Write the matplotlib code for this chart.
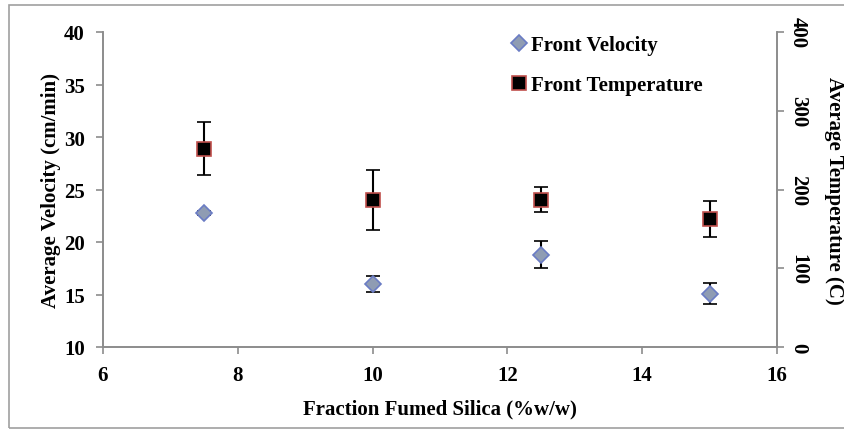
import numpy as np
import matplotlib.pyplot as plt
from matplotlib.patches import Rectangle

plt.rcParams['font.family'] = ['Liberation Serif', 'DejaVu Serif']
plt.rcParams['font.weight'] = 'bold'

# fumed silica loading (%w/w)
silica = [7.5, 10, 12.5, 15]
# front velocity (cm/min) and std dev
velocity = [22.8, 16.0, 18.8, 15.05]
velocity_err = [0.2, 0.8, 1.25, 1.0]
# front temperature (C) and std dev
temperature = [252, 187, 187, 163]
temperature_err = [34, 38, 16, 23]

grey = '#8c8c8c'
fs = 15

fig = plt.figure(figsize=(8.44, 4.31), dpi=100)
fig.patches.append(Rectangle((9/844, 2/431), 1.0, 423/431, transform=fig.transFigure,
                             fill=False, edgecolor='#a0a0a0', lw=1.2))

ax = fig.add_axes([103/844, 83/431, 674/844, 315/431])
ax2 = ax.twinx()

ax.errorbar(silica, velocity, yerr=velocity_err, fmt='D', ms=10,
            mfc='#8f9cb3', mec='#6a7cc4', mew=1.2, ecolor='black',
            elinewidth=1.5, capsize=5, capthick=1.5, zorder=3,
            label='Front Velocity')
ax2.errorbar(silica, temperature, yerr=temperature_err, fmt='s', ms=12,
             mfc='black', mec='#c0504d', mew=1.2, ecolor='black',
             elinewidth=1.5, capsize=5, capthick=1.5, zorder=3,
             label='Front Temperature')

ax.set_xlim(6, 16)
ax.set_ylim(10, 40)
ax2.set_ylim(0, 400)
ax.set_xticks(np.arange(6, 17, 2))
ax.set_yticks(np.arange(10, 41, 5))
ax2.set_yticks(np.arange(0, 401, 100))

for a in (ax, ax2):
    a.spines['top'].set_visible(False)
    for s in ('left', 'right', 'bottom'):
        a.spines[s].set_color(grey)
        a.spines[s].set_linewidth(1.2)
    a.tick_params(colors=grey, length=5, width=1.2, labelsize=fs,
                  labelcolor='black')
ax.tick_params(axis='y', pad=8)
ax.tick_params(axis='x', pad=8)

for lbl in ax2.get_yticklabels():
    lbl.set_rotation(-90)
    lbl.set_va('center')
ax2.tick_params(axis='y', pad=3)

ax.set_xlabel('Fraction Fumed Silica (%w/w)', fontsize=fs, fontweight='bold', labelpad=10)
ax.set_ylabel('Average Velocity (cm/min)', fontsize=fs, fontweight='bold', labelpad=2)
ax2.set_ylabel('Average Temperature (C)', fontsize=fs, fontweight='bold',
               rotation=-90, ha='center', va='center')
ax2.yaxis.set_label_coords((834 - 103) / 674, 0.5)

h1, l1 = ax.get_legend_handles_labels()
h2, l2 = ax2.get_legend_handles_labels()
h1[0][0].set_markersize(8)
h2[0][0].set_markersize(10)
handles = [h1[0][0], h2[0][0]]
leg = ax2.legend(handles, l1 + l2, loc='upper left', bbox_to_anchor=(0.59, 1.03),
                 frameon=False, prop={'size': fs, 'weight': 'bold'},
                 handlelength=0.6, handletextpad=0.25, labelspacing=0.95,
                 borderaxespad=0.2)

fig.savefig('out.png', dpi=100)
